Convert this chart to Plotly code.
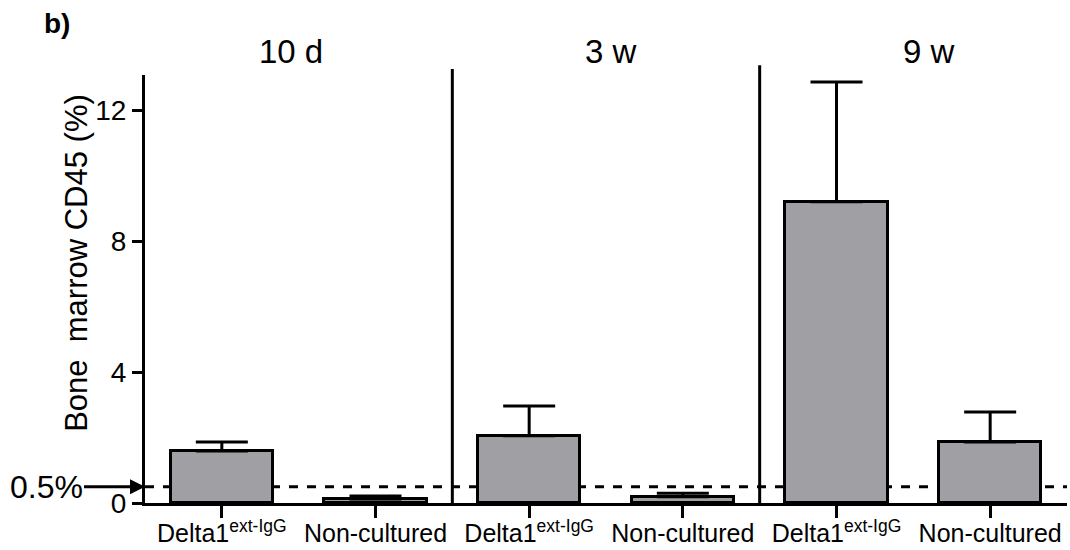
import plotly.graph_objects as go

categories = ["D1_10d", "NC_10d", "D1_3w", "NC_3w", "D1_9w", "NC_9w"]
tick_labels = ["Delta1<sup>ext-IgG</sup>", "Non-cultured",
               "Delta1<sup>ext-IgG</sup>", "Non-cultured",
               "Delta1<sup>ext-IgG</sup>", "Non-cultured"]
means = [1.59, 0.12, 2.05, 0.19, 9.20, 1.86]
errors_up = [0.27, 0.09, 0.91, 0.11, 3.66, 0.92]
panel_titles = ["10 d", "3 w", "9 w"]
threshold = 0.5
y_ticks = [0, 4, 8, 12]

FONT = "Liberation Sans, Arial, sans-serif"
BAR_FILL = "#a09fa4"

fig = go.Figure()
fig.add_trace(go.Bar(
    x=list(range(len(categories))),
    y=means,
    width=0.664,
    marker=dict(color=BAR_FILL, line=dict(color="black", width=3)),
    error_y=dict(type="data", symmetric=False, array=errors_up,
                 arrayminus=[0] * len(errors_up),
                 color="black", thickness=3, width=26),
    showlegend=False,
))

# dashed threshold line
fig.add_shape(type="line", xref="x", yref="y", x0=-0.5, x1=5.5,
              y0=threshold, y1=threshold,
              line=dict(color="black", width=3, dash="dash"), layer="below")

# panel dividers
fig.add_shape(type="line", xref="x", yref="paper", x0=1.5, x1=1.5, y0=0, y1=1.014,
              line=dict(color="black", width=3))
fig.add_shape(type="line", xref="x", yref="paper", x0=3.5, x1=3.5, y0=0, y1=1.023,
              line=dict(color="black", width=3))

annotations = []
for t, xp in zip(panel_titles, [0.45, 2.53, 4.6]):
    annotations.append(dict(x=xp, y=1.054, xref="x", yref="paper", text=t,
                            showarrow=False, font=dict(family=FONT, size=33, color="black"),
                            xanchor="center", yanchor="middle"))

annotations.append(dict(x=-0.5, y=threshold, xref="x", yref="y", text="0.5%",
                        showarrow=True, arrowhead=2, arrowsize=1, arrowwidth=3,
                        arrowcolor="black", ax=-99, ay=0, standoff=0,
                        font=dict(family=FONT, size=32, color="black")))

annotations.append(dict(x=-0.112, y=1.162, xref="paper", yref="paper", text="<b>b)</b>",
                        showarrow=False, xanchor="left", yanchor="top",
                        font=dict(family=FONT, size=28, color="black")))

annotations.append(dict(x=-0.0738, y=0.561, xref="paper", yref="paper",
                        text="Bone\u00a0 marrow CD45 (%)", textangle=-90,
                        showarrow=False, xanchor="center", yanchor="middle",
                        font=dict(family=FONT, size=31, color="black")))

fig.update_layout(
    width=1070, height=550,
    margin=dict(l=145, r=3, t=75, b=47),
    paper_bgcolor="white", plot_bgcolor="white",
    font=dict(family=FONT, color="black"),
    annotations=annotations,
    bargap=0,
)
fig.update_xaxes(
    range=[-0.5, 5.5], tickmode="array", tickvals=list(range(len(categories))),
    ticktext=tick_labels, showline=True, linecolor="black", linewidth=3,
    ticks="outside", ticklen=12, tickwidth=3, tickcolor="black", automargin=False,
    ticklabelstandoff=-6,
    showgrid=False, zeroline=False, tickfont=dict(family=FONT, size=25, color="black"),
)
fig.update_yaxes(
    range=[0, 13.07], tickmode="array", tickvals=y_ticks,
    showline=True, linecolor="black", linewidth=3, automargin=False,
    ticks="outside", ticklen=10, tickwidth=3, tickcolor="black",
    showgrid=False, zeroline=False, tickfont=dict(family=FONT, size=28, color="black"),
)

fig.write_html("out.html")
